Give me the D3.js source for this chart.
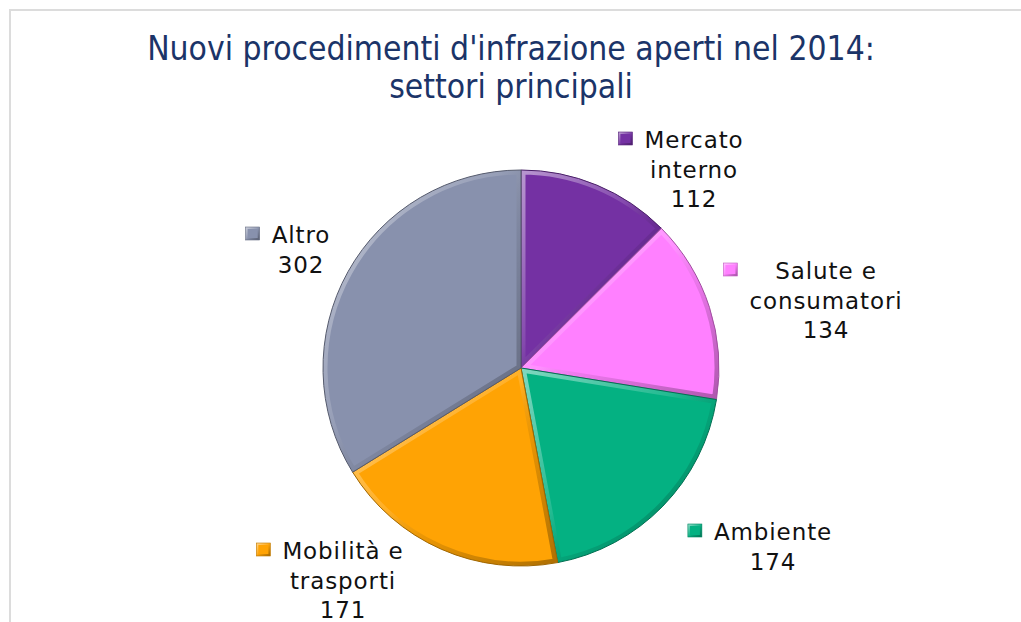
<!DOCTYPE html>
<html>
<head>
<meta charset="utf-8">
<script src="https://cdn.jsdelivr.net/npm/d3@7"></script>
<style>
  html, body { margin: 0; padding: 0; background: #fff; }
  svg { display: block; }
  .lbl { font-family: "DejaVu Sans", Verdana, sans-serif; font-size: 23px; letter-spacing: 0.9px; fill: #111; }
  .ttl { font-family: "DejaVu Sans Condensed", "DejaVu Sans", sans-serif; fill: #1b3468; }
</style>
</head>
<body>
<svg id="chart" width="1021" height="622"></svg>
<script>
const titleLines = ["Nuovi procedimenti d'infrazione aperti nel 2014:", 'settori principali'];
const sectors = [['Mercato', 'interno'], ['Salute e', 'consumatori'], ['Ambiente'], ['Mobilità e', 'trasporti'], ['Altro']];
const counts = [112, 134, 174, 171, 302];
const colors = ['#7431a3', '#ff80ff', '#04b182', '#ffa304', '#8891ad'];

// label block anchors relative to pie centre: [text centre x, first baseline y]
const labelAt = [[173, -220], [305, -89], [252, 172], [-178, 191], [-220, -125]];

const W = 1021, H = 622;
const cx = 521, cy = 368, R = 198;
const lineH = 29.5;

const svg = d3.select('#chart');
const defs = svg.append('defs');

// frame
svg.append('line').attr('x1', 9).attr('y1', 10).attr('x2', W).attr('y2', 10)
  .attr('stroke', '#dcdcdc').attr('stroke-width', 2);
svg.append('line').attr('x1', 10).attr('y1', 10).attr('x2', 10).attr('y2', H)
  .attr('stroke', '#dcdcdc').attr('stroke-width', 2);

// shared bevel gradient (light at top-left, dark at bottom-right)
const lg = defs.append('linearGradient').attr('id', 'bevg')
  .attr('x1', 0).attr('y1', 0).attr('x2', 1).attr('y2', 1);
[['0%', '#fff', 0.5], ['45%', '#fff', 0.12], ['60%', '#000', 0.08], ['100%', '#000', 0.32]].forEach(([o, c, op]) => {
  lg.append('stop').attr('offset', o).attr('stop-color', c).attr('stop-opacity', op);
});

// title
const title = svg.append('text').attr('class', 'ttl').attr('text-anchor', 'middle');
titleLines.forEach((t, i) => {
  title.append('tspan').attr('x', 511).attr('y', 60 + i * 38).text(t);
});
title.style('font-size', '28px');
const tw = title.select('tspan').node().getComputedTextLength();
title.style('font-size', `${(28 * 728 / tw).toFixed(2)}px`);

// pie
const pie = d3.pie().sort(null).value((d) => d)(counts);
const arc = d3.arc().innerRadius(0).outerRadius(R);
const g = svg.append('g').attr('transform', `translate(${cx},${cy})`);

pie.forEach((d, i) => {
  defs.append('clipPath').attr('id', `clip${i}`).append('path').attr('d', arc(d));
});
const slice = g.selectAll('g.slice').data(pie).join('g').attr('class', 'slice');
slice.append('path')
  .attr('d', arc)
  .attr('fill', (d, i) => colors[i]);
slice.append('path')
  .attr('d', arc)
  .attr('fill', 'none')
  .attr('stroke', 'url(#bevg)')
  .attr('stroke-width', 9)
  .attr('clip-path', (d, i) => `url(#clip${i})`);
slice.append('path')
  .attr('d', arc)
  .attr('fill', 'none')
  .attr('stroke', (d, i) => d3.color(colors[i]).darker(1.3))
  .attr('stroke-width', 1);

// labels
sectors.forEach((lines, i) => {
  const [lx, ly] = labelAt[i];
  const t = g.append('text').attr('class', 'lbl').attr('text-anchor', 'middle');
  lines.concat([String(counts[i])]).forEach((s, j) => {
    t.append('tspan').attr('x', lx).attr('y', ly + j * lineH).text(s);
  });
  let wmax = 0;
  t.selectAll('tspan').each(function () { wmax = Math.max(wmax, this.getComputedTextLength()); });
  const mx = lx - wmax / 2 - 26, my = ly - 16;
  g.append('rect').attr('x', mx).attr('y', my).attr('width', 14).attr('height', 13)
    .attr('fill', colors[i]);
  g.append('rect').attr('x', mx + 1).attr('y', my + 1).attr('width', 12).attr('height', 11)
    .attr('fill', 'none').attr('stroke', 'url(#bevg)').attr('stroke-width', 2);
  g.append('rect').attr('x', mx).attr('y', my).attr('width', 14).attr('height', 13)
    .attr('fill', 'none').attr('stroke', d3.color(colors[i]).darker(0.8)).attr('stroke-width', 0.6);
});
</script>
</body>
</html>
